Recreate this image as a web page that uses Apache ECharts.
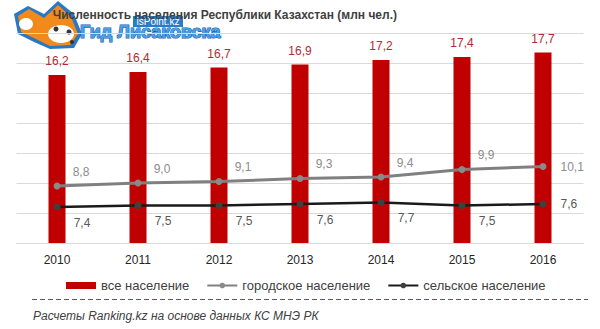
<!DOCTYPE html>
<html>
<head>
<meta charset="utf-8">
<script src="https://cdn.jsdelivr.net/npm/echarts@6/dist/echarts.min.js"></script>
<style>
html,body{margin:0;padding:0;background:#fff;}
#chart{width:600px;height:329px;}
</style>
</head>
<body>
<div id="chart"></div>
<script>
const years = ['2010', '2011', '2012', '2013', '2014', '2015', '2016'];
const totalPop = [16.2, 16.4, 16.7, 16.9, 17.2, 17.4, 17.7];
const urbanPop = [8.8, 9.0, 9.1, 9.3, 9.4, 9.9, 10.1];
const ruralPop = [7.4, 7.5, 7.5, 7.6, 7.7, 7.5, 7.6];
const seriesNames = ['все население', 'городское население', 'сельское население'];
const titleText = 'Численность населения Республики Казахстан (млн чел.)';
const sourceText = 'Расчеты Ranking.kz на основе данных КС МНЭ РК';

const FONT = 'Liberation Sans';
const fmt = v => v.toFixed(1).replace('.', ',');

function lineData(values) {
  return values.map((v, i) => i === values.length - 1
    ? { value: v, label: { position: 'right', distance: 14, offset: [0, 0] } }
    : v);
}

const chart = echarts.init(document.getElementById('chart'), null, { renderer: 'svg' });
chart.setOption({
  animation: false,
  backgroundColor: '#ffffff',
  textStyle: { fontFamily: FONT },
  grid: { left: 16.5, right: 16.5, top: 33, bottom: 86, containLabel: false },
  xAxis: {
    type: 'category',
    data: years,
    axisLine: { lineStyle: { color: '#d9d9d9', width: 1 } },
    axisTick: { show: false },
    axisLabel: { color: '#262626', fontSize: 12, fontFamily: FONT, margin: 11 }
  },
  yAxis: [
    {
      type: 'value', min: 5, max: 19,
      axisLine: { show: false }, axisTick: { show: false },
      axisLabel: { show: false }, splitLine: { show: false }
    },
    {
      type: 'value', min: 0, max: 14, interval: 2, position: 'right',
      axisLine: { show: false }, axisTick: { show: false },
      axisLabel: { show: false },
      splitLine: { show: true, lineStyle: { color: '#d9d9d9', width: 1 } }
    }
  ],
  legend: {
    left: 61, top: 274,
    itemWidth: 30, itemHeight: 7, itemGap: 17,
    textStyle: { fontSize: 13, color: '#404040', fontFamily: FONT },
    data: [{ name: seriesNames[0], icon: 'rect' }, seriesNames[1], seriesNames[2]]
  },
  series: [
    {
      name: seriesNames[0], type: 'bar', yAxisIndex: 0,
      data: totalPop, barWidth: 17,
      itemStyle: { color: '#c00000' },
      label: {
        show: true, position: 'top', distance: 8,
        color: '#b02a30', fontSize: 12, fontFamily: FONT,
        formatter: p => fmt(p.value)
      }
    },
    {
      name: seriesNames[1], type: 'line', yAxisIndex: 0,
      data: lineData(urbanPop),
      symbol: 'circle', symbolSize: 7,
      lineStyle: { color: '#808080', width: 3 },
      itemStyle: { color: '#8a8a8a' },
      label: {
        show: true, position: 'top', distance: 5, offset: [24, 0],
        color: '#8c8c8c', fontSize: 12, fontFamily: FONT,
        formatter: p => fmt(p.value)
      },
      z: 3
    },
    {
      name: seriesNames[2], type: 'line', yAxisIndex: 0,
      data: lineData(ruralPop),
      symbol: 'circle', symbolSize: 7,
      lineStyle: { color: '#1a1a1a', width: 2.5 },
      itemStyle: { color: '#404040' },
      label: {
        show: true, position: 'bottom', distance: 6, offset: [25, 0],
        color: '#595959', fontSize: 12, fontFamily: FONT,
        formatter: p => fmt(p.value)
      },
      z: 3
    }
  ],
  graphic: [
    {
      type: 'text', x: 397, y: 15, z: 10,
      style: { text: titleText, textAlign: 'right', textVerticalAlign: 'middle',
        fill: '#404040', font: 'bold 12px "' + FONT + '"' }
    },
    {
      type: 'line', z: 10,
      shape: { x1: 32, y1: 299.5, x2: 588, y2: 299.5 },
      style: { stroke: '#595959', lineWidth: 1, lineDash: [5, 3] }
    },
    {
      type: 'text', x: 33, y: 316, z: 10,
      style: { text: sourceText, textAlign: 'left', textVerticalAlign: 'middle',
        fill: '#404040', font: 'italic 12px "' + FONT + '"' }
    },
    // watermark logo (approximation)
    {
      type: 'group', z: 20,
      children: [
        { type: 'polygon', shape: { points: [[14,14],[28,6],[44,14],[58,1],[74,14],[82,34],[74,48],[50,49],[34,42],[18,34]] },
          style: { fill: '#2a78c2' } },
        { type: 'polygon', shape: { points: [[18,16],[29,9],[44,18],[58,5],[71,17],[78,34],[70,45],[50,46],[36,39],[21,32]] },
          style: { fill: '#f08a1c' } },
        { type: 'ellipse', shape: { cx: 26, cy: 24, rx: 7, ry: 6 }, style: { fill: '#ffffff' } },
        { type: 'ellipse', shape: { cx: 61, cy: 34, rx: 13, ry: 9 }, style: { fill: '#ffffff' } },
        { type: 'circle', shape: { cx: 56, cy: 29, r: 2.5 }, style: { fill: '#333333' } },
        { type: 'circle', shape: { cx: 69, cy: 32, r: 2.5 }, style: { fill: '#333333' } },
        { type: 'circle', shape: { cx: 72, cy: 42, r: 2 }, style: { fill: '#333333' } },
        { type: 'rect', shape: { x: 133, y: 16, width: 50, height: 11 }, style: { fill: '#2a7cc7' } },
        { type: 'text', x: 158, y: 21.5,
          style: { text: 'isPoint.kz', textAlign: 'center', textVerticalAlign: 'middle',
            fill: '#ffffff', font: '10px "' + FONT + '"' } },
        { type: 'text', x: 80, y: 32,
          style: { text: 'Гид Лисаковска', textAlign: 'left', textVerticalAlign: 'middle',
            fill: '#4a9fe6', stroke: '#1a5ea8', lineWidth: 1.2,
            font: 'bold 18px "' + FONT + '"' } }
      ]
    }
  ]
});
</script>
</body>
</html>
